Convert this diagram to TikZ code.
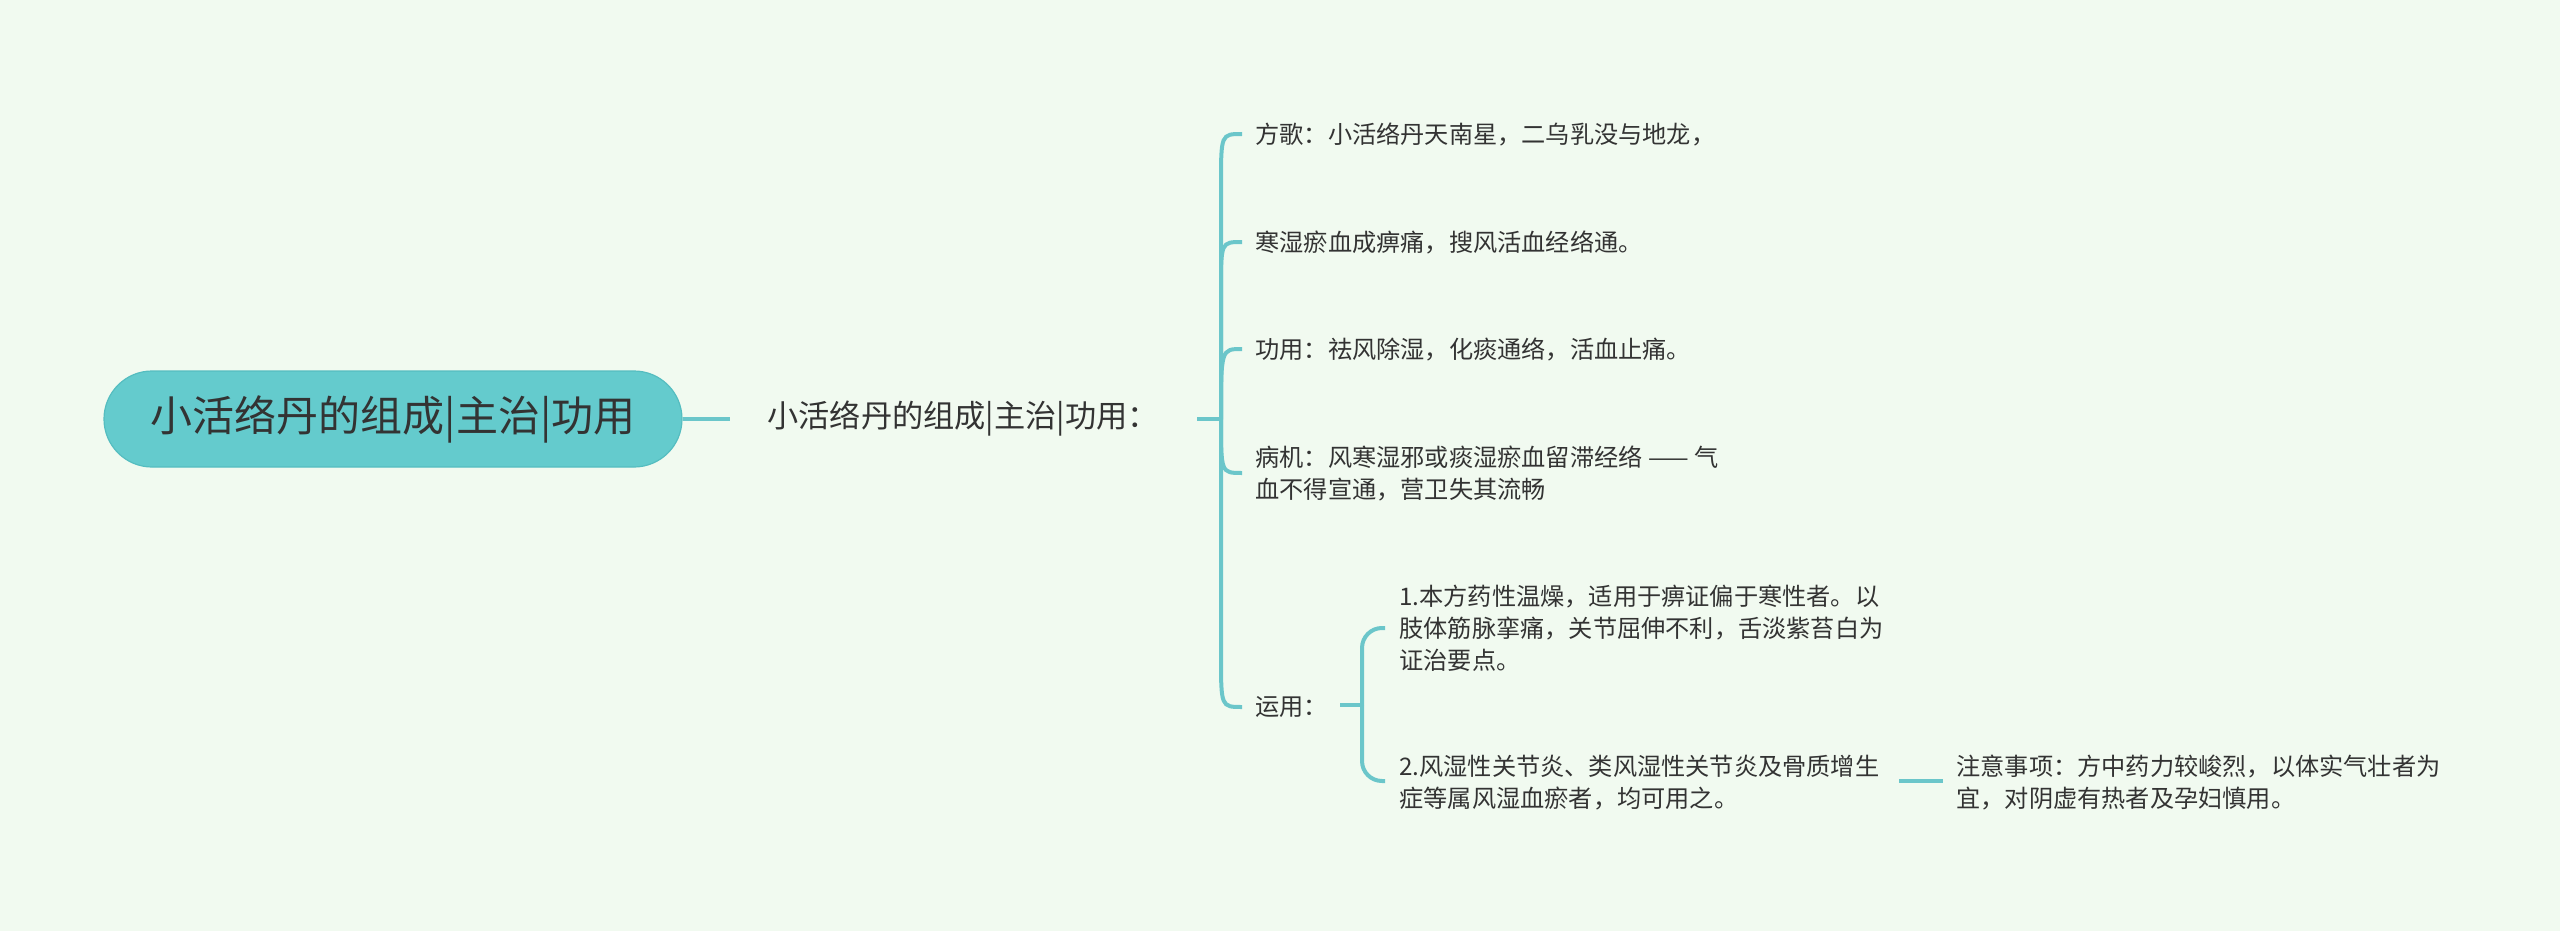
\documentclass[tikz,border=0pt]{standalone}
\usepackage{fontspec}
\setmainfont{Noto Sans CJK SC}
\definecolor{bg}{HTML}{F1FAF0}
\definecolor{teal1}{HTML}{6BC6CA}
\definecolor{rootfill}{HTML}{64CBCD}
\definecolor{rootline}{HTML}{55BDC0}
\definecolor{txt}{HTML}{333333}
\begin{document}
\begin{tikzpicture}[x=0.5pt,y=-0.5pt,
  conn/.style={draw=teal1, line width=2pt},
  subconn/.style={draw=teal1, line width=2pt, rounded corners=10pt},
  rootbox/.style={fill=rootfill, draw=rootline, line width=0.6pt, rounded corners=24pt,
    minimum width=289pt, minimum height=48pt, inner sep=0pt, text=txt,
    font=\fontsize{21pt}{25pt}\selectfont},
  midtext/.style={anchor=west, inner sep=0pt, text=txt, font=\fontsize{15.6pt}{18pt}\selectfont},
  leaf/.style={anchor=west, inner sep=0pt, align=left, text=txt,
    font=\fontsize{12.1pt}{16pt}\selectfont}
]
\fill[bg] (0,0) rectangle (2560,931);
\useasboundingbox (0,0) rectangle (2560,931);

\node[rootbox] (root) at (393,419) {小活络丹的组成|主治|功用};
\node[midtext] (mid) at (767,419) {小活络丹的组成|主治|功用：};

\node[leaf] (fg) at (1255,134) {方歌：小活络丹天南星，二乌乳没与地龙，};
\node[leaf] (hs) at (1255,242) {寒湿瘀血成痹痛，搜风活血经络通。};
\node[leaf] (gy) at (1255,349) {功用：祛风除湿，化痰通络，活血止痛。};
\node[leaf] (bj) at (1255,473) {病机：风寒湿邪或痰湿瘀血留滞经络 —— 气\\血不得宣通，营卫失其流畅};
\node[leaf] (yy) at (1255,707) {运用：};
\node[leaf] (y1) at (1399,628) {1.本方药性温燥，适用于痹证偏于寒性者。以\\肢体筋脉挛痛，关节屈伸不利，舌淡紫苔白为\\证治要点。};
\node[leaf] (y2) at (1399,783) {2.风湿性关节炎、类风湿性关节炎及骨质增生\\症等属风湿血瘀者，均可用之。};
\node[leaf] (zy) at (1956,783) {注意事项：方中药力较峻烈，以体实气壮者为\\宜，对阴虚有热者及孕妇慎用。};

\coordinate (s1) at (1197,419);
\coordinate (h1) at (1221,419);
\coordinate (s2) at (1340,705);
\coordinate (h2) at (1362,705);

\draw[conn] (root.east) -- ([xshift=-18.5pt]mid.west);
\draw[conn] (s1) -- (h1);
\draw[conn] (h1) -- (1221,185) .. controls (1221,134) .. ([xshift=-6.5pt]fg.west);
\draw[conn] (h1) -- (1221,290) .. controls (1221,242) .. ([xshift=-6.5pt]hs.west);
\draw[conn] (h1) .. controls (1221,349) .. ([xshift=-6.5pt]gy.west);
\draw[conn] (h1) .. controls (1221,473) .. ([xshift=-6.5pt]bj.west);
\draw[conn] (h1) -- (1221,655) .. controls (1221,707) .. ([xshift=-6.5pt]yy.west);

\draw[conn] (s2) -- (h2);
\draw[subconn] (h2) -- (1362,628) -- ([xshift=-7pt]y1.west);
\draw[subconn] (h2) -- (1362,781) -- ([xshift=-7pt]y2.west |- 0,781);
\draw[conn] (1899,781) -- ([xshift=-6.5pt]zy.west |- 0,781);
\end{tikzpicture}
\end{document}
